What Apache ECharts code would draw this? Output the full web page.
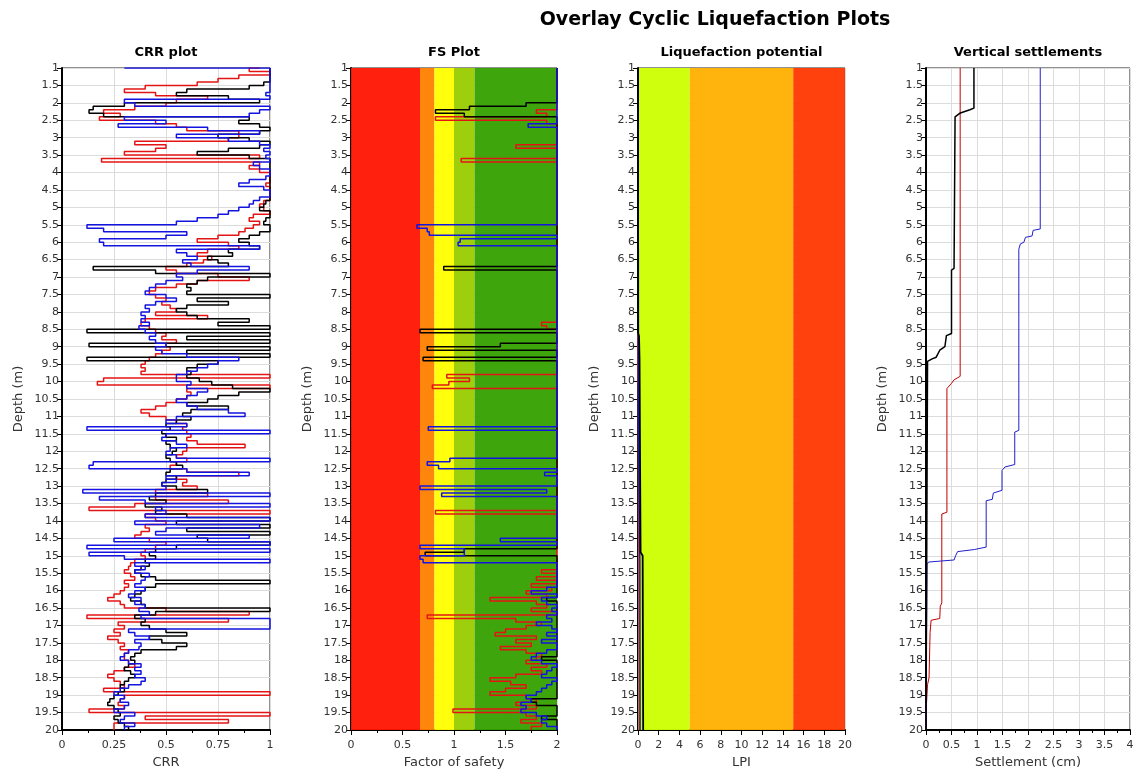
<!DOCTYPE html>
<html><head><meta charset="utf-8">
<script src="https://cdn.jsdelivr.net/npm/echarts@6/dist/echarts.min.js"></script>
<style>html,body{margin:0;padding:0;background:#fff}#c{width:1133px;height:771px}</style>
</head><body><div id="c"></div>
<script>
// ---------- text ----------
const mainTitle = 'Overlay Cyclic Liquefaction Plots';
const panelTitles = ['CRR plot', 'FS Plot', 'Liquefaction potential', 'Vertical settlements'];
const xNames = ['CRR', 'Factor of safety', 'LPI', 'Settlement (cm)'];
const yName = 'Depth (m)';

// ---------- axes ----------
const depthMin = 1, depthMax = 20, depthInterval = 0.5;
const xMins = [0, 0, 0, 0];
const xMaxs = [1, 2, 20, 4];
const xIntervals = [0.25, 0.5, 2, 0.5];

// depth sampling of profile data (1.0 m ... 20.0 m every 0.1 m)
const sampleDepths = Array.from({length: 191}, (_, i) => Math.round((1 + i * 0.1) * 10) / 10);

// ---------- CRR (one row per metre: d.0 ... d.9) ----------
const crrBlack = [
 1,1,1,1,1,0.97,0.9,0.6,0.55,0.8,
 0.95,0.3,0.15,0.13,0.2,0.9,0.85,0.95,1,0.95,
 0.75,0.9,1,0.95,0.8,0.65,0.9,1,1,1,
 1,1,1,1,1,1,1,1,1,0.98,
 0.97,0.95,1,1,0.98,0.97,1,1,0.95,0.9,
 0.85,0.9,0.95,0.8,0.82,0.7,0.75,0.8,0.15,0.45,
 1,0.7,0.65,0.6,0.62,0.6,1,0.65,0.8,0.6,
 0.55,0.6,0.65,0.9,0.75,1,0.12,1,0.6,1,
 0.13,1,0.6,1,0.12,0.75,0.65,0.6,0.62,0.6,
 0.66,0.72,0.82,1,0.85,0.75,0.7,0.6,0.8,0.62,
 0.58,0.62,0.55,0.5,0.52,0.48,0.5,0.55,0.5,0.52,
 0.55,0.53,0.5,0.52,0.55,0.58,0.52,0.5,0.55,0.5,
 0.48,0.55,0.7,0.45,0.42,0.5,0.4,0.48,0.45,0.6,
 1,0.55,1,0.6,1,0.65,0.7,1,0.55,0.45,
 0.42,0.45,0.4,0.42,0.38,0.35,0.38,0.45,1,0.45,
 0.4,0.38,0.35,0.33,0.38,0.4,1,0.45,0.35,0.4,
 0.38,0.42,0.5,0.6,0.42,0.48,0.6,0.55,0.38,0.35,
 0.33,0.35,0.32,0.3,0.33,0.35,0.32,0.3,0.28,0.3,
 0.27,0.25,0.23,0.22,0.25,0.27,0.28,0.25,0.27,0.3,
 0.32];
const crrRed = [
 0.95,0.9,1,0.85,0.75,0.65,0.4,0.3,0.45,0.7,
 0.55,0.5,0.35,0.2,0.28,0.18,0.45,0.55,0.6,0.85,
 0.85,0.8,0.35,0.5,0.45,0.3,0.95,0.19,0.95,0.9,
 0.95,1,1,1,0.98,1,1,1,1,0.97,
 0.95,0.97,1,0.92,0.9,0.95,0.92,0.88,0.85,0.75,
 0.65,0.8,0.85,0.7,0.65,0.72,0.68,0.6,0.5,0.55,
 0.75,0.9,0.65,0.55,0.45,0.42,0.45,0.5,0.48,0.52,
 0.55,0.45,0.7,0.4,0.38,0.42,0.45,0.5,0.48,0.55,
 0.5,0.52,0.48,0.45,0.42,0.4,0.38,0.4,0.38,1,
 0.2,0.17,1,0.6,0.62,0.6,0.55,0.5,0.45,0.38,
 0.42,0.5,0.55,0.6,0.58,0.6,0.62,0.6,0.65,0.88,
 0.6,0.58,0.55,0.6,0.55,0.52,0.6,0.85,0.55,0.6,
 0.58,0.65,0.45,0.7,0.45,0.8,0.35,0.13,1,0.4,
 0.45,0.5,0.4,0.42,0.38,0.35,0.42,0.5,0.45,0.4,
 0.38,0.4,0.35,0.33,0.32,0.3,0.33,0.35,0.3,0.32,
 0.3,0.28,0.25,0.22,0.28,0.3,0.5,0.9,0.12,0.8,
 0.27,0.3,0.25,0.28,0.22,0.27,0.3,0.28,0.32,0.3,
 0.3,0.32,0.35,0.3,0.25,0.22,0.25,0.28,0.3,0.2,
 1,0.3,0.28,0.27,0.3,0.13,1,0.4,0.8,0.25,
 0.25];
const crrBlue = [
 0.3,1,1,1,1,1,1,1,0.98,1,
 0.3,0.35,1,0.95,0.9,0.3,0.5,0.27,0.7,0.95,
 0.55,0.8,0.95,1,0.97,1,0.98,1,0.92,0.95,
 1,1,0.98,0.9,0.85,0.97,1,1,0.95,0.92,
 0.9,0.85,0.8,0.75,0.65,0.55,0.12,0.2,0.6,0.5,
 0.18,0.2,0.95,0.55,0.6,0.65,0.58,0.62,0.9,0.65,
 0.55,0.58,0.5,0.45,0.42,0.4,0.5,0.55,0.45,0.4,
 0.42,0.38,0.4,0.38,0.42,0.37,0.4,0.45,0.42,0.45,
 0.5,0.45,0.48,0.6,0.85,0.75,0.7,0.65,0.6,0.55,
 0.55,0.62,0.6,0.7,0.65,0.6,0.55,0.6,0.65,0.8,
 0.88,0.55,0.5,0.6,0.12,1,0.5,0.48,0.55,0.6,
 0.52,0.5,0.55,1,0.15,0.13,0.6,0.9,0.5,0.55,
 0.48,0.5,0.1,1,0.18,0.4,1,0.45,0.5,0.4,
 1,0.35,0.95,0.5,0.45,0.9,0.25,1,0.12,1,
 0.13,0.3,1,0.35,0.4,0.35,0.42,0.4,0.38,0.35,
 0.4,0.35,0.32,0.38,0.35,0.4,0.37,0.42,0.38,1,
 1,1,0.32,0.35,0.42,0.35,0.38,0.37,0.32,0.3,
 0.28,0.32,0.38,0.35,0.38,0.35,0.4,0.38,0.32,0.28,
 0.25,0.3,0.28,0.32,0.3,0.25,0.35,0.3,0.28,0.35,
 0.3];

// ---------- Factor of safety (capped at 2) ----------
const fsBlack = [
 2,2,2,2,2,2,2,2,2,2,
 2,1.7,1.15,0.82,1.1,2,2,2,2,2,
 2,2,2,2,2,2,2,2,2,2,
 2,2,2,2,2,2,2,2,2,2,
 2,2,2,2,2,2,2,2,2,2,
 2,2,2,2,2,2,2,2,0.9,2,
 2,2,2,2,2,2,2,2,2,2,
 2,2,2,2,2,2,0.67,2,2,2,
 1.45,0.74,2,2,0.7,2,2,2,2,2,
 2,2,2,2,2,2,2,2,2,2,
 2,2,2,2,2,2,2,2,2,2,
 2,2,2,2,2,2,2,2,2,2,
 2,2,2,2,2,2,2,2,2,2,
 2,2,2,2,2,2,2,2,2,1.1,
 0.72,2,2,2,2,2,2,2,2,2,
 2,2,2,1.9,2,2,2,2,2,2,
 2,2,2,2,2,2,2,2,2,2,
 1.85,2,2,2,2,2,2,2,2,2,
 2,2,1.75,1.8,2,2,2,1.85,2,2,
 2];
const fsRed = [
 2,2,2,2,2,2,2,2,2,2,
 2,2,2,1.8,1.9,0.82,1.9,2,2,2,
 2,2,2,1.6,2,2,2,1.07,2,2,
 2,2,2,2,2,2,2,2,2,2,
 2,2,2,2,2,2,2,2,2,2,
 2,2,2,2,2,2,2,2,2,2,
 2,2,2,2,2,2,2,2,2,2,
 2,2,2,2,1.85,1.9,2,2,2,2,
 2,2,2,2,2,2,2,2,2,0.93,
 1.15,0.95,0.79,2,2,2,2,2,2,2,
 2,2,2,2,2,2,2,2,2,2,
 2,2,2,2,2,2,2,2,2,2,
 2,2,2,2,2,2,2,2,0.82,2,
 2,2,2,2,2,2,2,2,2,2,
 2,2,2,2,2,1.85,2,1.8,2,1.75,
 1.95,1.7,1.9,1.35,1.8,1.9,1.75,2,0.74,1.6,
 1.85,1.7,1.5,1.4,1.8,1.6,1.75,1.45,1.7,1.85,
 1.8,1.7,1.9,1.75,1.85,1.6,1.35,1.55,1.7,1.5,
 1.35,1.7,1.8,1.6,1.8,0.99,1.7,1.8,1.65,1.85,
 1.75];
const fsBlue = [
 2,2,2,2,2,2,2,2,2,2,
 2,2,2,2,2,2,2,1.72,2,2,
 2,2,2,2,2,2,2,2,2,2,
 2,2,2,2,2,2,2,2,2,2,
 2,2,2,2,2,2,0.64,0.74,0.76,2,
 1.06,1.04,2,2,2,2,2,2,2,2,
 2,2,2,2,2,2,2,2,2,2,
 2,2,2,2,2,2,2,2,2,2,
 2,2,2,2,2,2,2,2,2,2,
 2,2,2,2,2,2,2,2,2,2,
 2,2,2,2,0.75,2,2,2,2,2,
 2,2,2,0.96,0.74,0.85,2,1.88,2,2,
 2,0.67,1.9,0.88,2,2,2,2,2,2,
 2,2,2,2,2,2,1.45,2,0.67,1.1,
 1.1,0.67,0.7,2,2,2,2,2,2,2,
 1.9,1.75,2,1.85,1.9,2,1.95,2,1.9,1.95,
 1.8,1.95,2,1.9,2,1.85,2,2,1.9,1.8,
 1.75,1.85,2,1.95,1.9,1.85,2,1.95,1.9,1.85,
 1.8,1.7,1.75,1.65,1.7,1.65,1.8,1.9,1.85,1.9,
 2];

// ---------- Liquefaction potential index ----------
const lpiBlackDepth = [1, 8.6, 8.7, 9.4, 12.4, 14.9, 15.0, 20];
const lpiBlackVal   = [0, 0, 0.1, 0.15, 0.2, 0.25, 0.45, 0.5];
const lpiRedDepth   = [1, 9.85, 10.2, 13.8, 16.8, 20];
const lpiRedVal     = [0, 0, 0.03, 0.05, 0.08, 0.1];
const lpiBlueDepth  = [1, 5.6, 6.2, 11.4, 13.2, 15.2, 20];
const lpiBlueVal    = [0, 0, 0.03, 0.05, 0.1, 0.18, 0.2];

// ---------- Vertical settlements (cm) ----------
const setBlackDepth = [1, 2.15, 2.2, 2.3, 2.4, 2.45, 6.75, 6.8, 8.62, 8.68, 9.0, 9.1, 9.3, 9.35, 9.42, 20];
const setBlackVal   = [0.94, 0.94, 0.86, 0.66, 0.57, 0.55, 0.55, 0.5, 0.5, 0.4, 0.37, 0.27, 0.2, 0.12, 0.03, 0];
const setRedDepth   = [1, 9.85, 9.95, 10.05, 10.2, 13.75, 13.8, 16.35, 16.45, 16.8, 16.85, 17.2, 17.25, 18.5, 18.7, 19.5, 20];
const setRedVal     = [0.67, 0.67, 0.55, 0.5, 0.41, 0.41, 0.31, 0.31, 0.28, 0.27, 0.1, 0.08, 0.07, 0.06, 0.03, 0, 0];
const setBlueDepth  = [1, 5.62, 5.66, 5.82, 5.86, 6.0, 6.05, 6.2, 11.4, 11.45, 12.38, 12.45, 12.55, 13.12, 13.2, 13.38, 13.42, 14.75, 14.82, 14.88, 15.0, 15.12, 15.18, 15.25, 19.5, 20];
const setBlueVal    = [2.24, 2.24, 2.1, 2.08, 1.95, 1.92, 1.85, 1.82, 1.82, 1.74, 1.74, 1.55, 1.49, 1.49, 1.32, 1.3, 1.18, 1.18, 0.95, 0.62, 0.58, 0.55, 0.05, 0.02, 0, 0];

// ---------- background classes ----------
const fsBandEdges  = [0, 0.67, 0.81, 1.0, 1.2, 2];
const fsBandColors = ['#ff1400', '#ff8000', '#ffff00', '#99cc00', '#34a000'];
const lpiBandEdges  = [0, 5, 15, 20];
const lpiBandColors = ['#ccff00', '#ffb000', '#ff3700'];

const seriesColors = {black: '#000000', red: '#e41414', blue: '#1414e0'};

// ---------- build ----------
const F = '"DejaVu Sans", Verdana, sans-serif';
const gridLefts = [62, 351, 638, 926];
const gridWidths = [208, 206, 207, 204];
const gridTop = 68, gridHeight = 662;

const grids = gridLefts.map((l, i) => ({
  left: l, top: gridTop, width: gridWidths[i], height: gridHeight,
  show: true, borderColor: '#222', borderWidth: 1, backgroundColor: '#fff',
  containLabel: false, outerBoundsMode: 'none'
}));

const xAxes = xNames.map((n, i) => ({
  type: 'value', gridIndex: i, min: xMins[i], max: xMaxs[i], interval: xIntervals[i],
  name: n, nameLocation: 'middle', nameGap: 24,
  nameTextStyle: {fontFamily: F, fontSize: 13, color: '#333'},
  axisLine: {show: true, onZero: false, lineStyle: {color: '#000', width: 2}},
  axisTick: {show: true, length: 5, lineStyle: {color: '#000'}},
  minorTick: {show: i !== 2, splitNumber: 2, length: 3, lineStyle: {color: '#000'}},
  axisLabel: {fontFamily: F, fontSize: 11, color: '#333', margin: 10},
  splitLine: {show: true, lineStyle: {color: '#dcdcdc', width: 1}}
}));

const yAxes = xNames.map((n, i) => ({
  type: 'value', gridIndex: i, inverse: true, min: depthMin, max: depthMax, interval: depthInterval,
  name: yName, nameLocation: 'middle', nameGap: 37, nameRotate: 90,
  nameTextStyle: {fontFamily: F, fontSize: 13, color: '#333'},
  axisLine: {show: true, onZero: false, lineStyle: {color: '#000', width: 2}},
  axisTick: {show: true, length: 5, lineStyle: {color: '#000'}},
  axisLabel: {fontFamily: F, fontSize: 11, color: '#333', margin: 3},
  splitLine: {show: true, lineStyle: {color: '#dcdcdc', width: 1}}
}));

function lineSeries(gi, xs, ds, color, width, step) {
  return {
    type: 'line', xAxisIndex: gi, yAxisIndex: gi, silent: true, z: 3,
    showSymbol: false, symbol: 'none', animation: false, step: step || false,
    data: xs.map((v, k) => [v, ds[k]]),
    lineStyle: {color: color, width: width}
  };
}
function bandSeries(gi, edges, colors) {
  return {
    type: 'custom', xAxisIndex: gi, yAxisIndex: gi, silent: true, z: 1,
    data: edges.slice(0, -1).map((e, k) => [e, edges[k + 1], depthMin, depthMax, k]),
    encode: {x: [0, 1], y: [2, 3]},
    renderItem: (params, api) => {
      const p0 = api.coord([api.value(0), api.value(2)]);
      const p1 = api.coord([api.value(1), api.value(3)]);
      return {type: 'rect', shape: {x: p0[0], y: p0[1], width: p1[0] - p0[0], height: p1[1] - p0[1]},
              style: {fill: colors[api.value(4)], opacity: 0.95}};
    }
  };
}

const series = [
  lineSeries(0, crrRed, sampleDepths, seriesColors.red, 1.5, 'end'),
  lineSeries(0, crrBlack, sampleDepths, seriesColors.black, 1.5, 'end'),
  lineSeries(0, crrBlue, sampleDepths, seriesColors.blue, 1.5, 'end'),
  bandSeries(1, fsBandEdges, fsBandColors),
  lineSeries(1, fsRed, sampleDepths, seriesColors.red, 1.5, 'end'),
  lineSeries(1, fsBlack, sampleDepths, seriesColors.black, 1.5, 'end'),
  lineSeries(1, fsBlue, sampleDepths, seriesColors.blue, 1.5, 'end'),
  bandSeries(2, lpiBandEdges, lpiBandColors),
  lineSeries(2, lpiRedVal, lpiRedDepth, '#d05000', 1.5),
  lineSeries(2, lpiBlueVal, lpiBlueDepth, seriesColors.blue, 1.5),
  lineSeries(2, lpiBlackVal, lpiBlackDepth, seriesColors.black, 1.8),
  lineSeries(3, setRedVal, setRedDepth, '#c00000', 1),
  lineSeries(3, setBlueVal, setBlueDepth, '#2020c8', 1),
  lineSeries(3, setBlackVal, setBlackDepth, seriesColors.black, 1.5)
];

const panelCenters = gridLefts.map((l, i) => l + gridWidths[i] / 2);
const graphic = [
  {type: 'text', x: 715, y: 20, style: {text: mainTitle, font: 'bold 19px ' + F, fill: '#000', align: 'center', verticalAlign: 'middle'}}
].concat(panelTitles.map((t, i) => ({
  type: 'text', x: panelCenters[i], y: 53,
  style: {text: t, font: 'bold 13px ' + F, fill: '#000', align: 'center', verticalAlign: 'middle'}
})));

const chart = echarts.init(document.getElementById('c'), null, {renderer: 'canvas'});
chart.setOption({
  animation: false,
  backgroundColor: '#fff',
  grid: grids,
  xAxis: xAxes,
  yAxis: yAxes,
  series: series,
  graphic: graphic
});
</script>
</body></html>
